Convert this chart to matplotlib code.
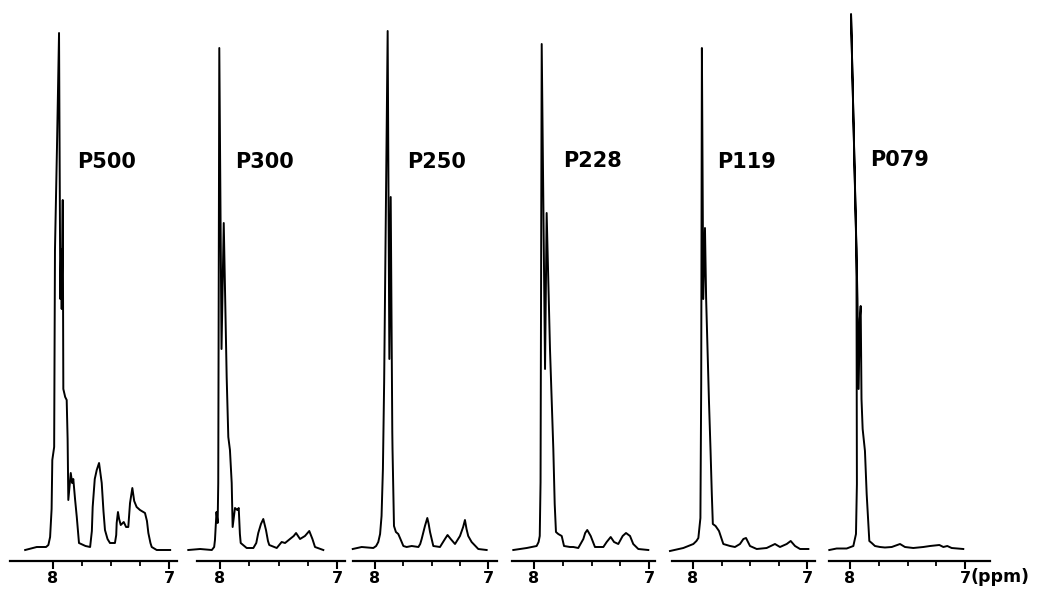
import matplotlib
matplotlib.use("Agg")
import matplotlib.pyplot as plt

# spectra: chemical shift (ppm) and intensity (above baseline)
labels = ["P500", "P300", "P250", "P228", "P119", "P079"]

p500_ppm = [8.24, 8.14, 8.06, 8.04, 8.025, 8.012, 8.006, 7.99, 7.983, 7.966,
            7.948, 7.937, 7.93, 7.925, 7.916, 7.911, 7.895, 7.882, 7.874, 7.868,
            7.847, 7.835, 7.825, 7.81, 7.795, 7.776, 7.72, 7.68, 7.665, 7.658,
            7.64, 7.623, 7.603, 7.58, 7.565, 7.552, 7.53, 7.509, 7.466, 7.455,
            7.451, 7.44, 7.43, 7.416, 7.39, 7.37, 7.351, 7.336, 7.316, 7.30,
            7.279, 7.25, 7.207, 7.19, 7.178, 7.16, 7.149, 7.106, 6.99]
p500_int = [-1, 2, 2, 4, 12, 40, 89, 102, 299, 400,
            516, 250, 300, 240, 349, 160, 152, 149, 110, 49,
            76, 66, 70, 50, 32, 6, 3, 2, 18, 42,
            70, 79, 86, 66, 38, 19, 10, 6, 6, 14,
            26, 37, 30, 24, 27, 22, 22, 46, 61, 48,
            42, 39, 36, 28, 16, 6, 2, -1, -1]

p300_ppm = [8.271, 8.17, 8.07, 8.05, 8.043, 8.03, 8.02, 8.015, 8.006, 7.987,
            7.968, 7.943, 7.929, 7.915, 7.90, 7.892, 7.872, 7.852, 7.84, 7.83,
            7.823, 7.772, 7.715, 7.69, 7.673, 7.65, 7.63, 7.607, 7.59, 7.579,
            7.515, 7.473, 7.444, 7.402, 7.37, 7.35, 7.316, 7.274, 7.237, 7.21,
            7.188, 7.117]
p300_int = [-1, 0, -1, 2, 9, 37, 26, 66, 501, 200,
            326, 172, 112, 99, 66, 22, 41, 39, 41, 15,
            6, 1, 1, 6, 16, 25, 30, 19, 8, 4,
            1, 7, 6, 10, 13, 16, 10, 13, 18, 10,
            2, -1]

p250_ppm = [8.197, 8.118, 8.015, 7.99, 7.971, 7.955, 7.942, 7.93, 7.919, 7.888,
            7.873, 7.861, 7.847, 7.845, 7.832, 7.815, 7.794, 7.775, 7.749, 7.72,
            7.675, 7.616, 7.6, 7.587, 7.558, 7.537, 7.525, 7.513, 7.484, 7.425,
            7.381, 7.358, 7.351, 7.33, 7.292, 7.248, 7.22, 7.204, 7.19, 7.175,
            7.145, 7.086, 7.012]
p250_int = [0, 2, 1, 3, 7, 15, 33, 80, 167, 518,
            190, 352, 117, 100, 23, 17, 15, 10, 3, 2,
            3, 2, 5, 10, 23, 31, 25, 17, 3, 2,
            10, 14, 13, 10, 5, 13, 22, 29, 20, 13,
            7, 0, -1]

p228_ppm = [8.18, 8.063, 7.977, 7.96, 7.95, 7.943, 7.933, 7.904, 7.89, 7.861,
            7.832, 7.82, 7.809, 7.789, 7.759, 7.739, 7.687, 7.658, 7.615, 7.571,
            7.555, 7.537, 7.507, 7.47, 7.397, 7.368, 7.333, 7.304, 7.267, 7.229,
            7.20, 7.165, 7.137, 7.093, 7.006]
p228_int = [-1, 1, 3, 7, 13, 67, 505, 180, 336, 200,
            100, 45, 17, 15, 13, 3, 2, 2, 1, 10,
            16, 19, 13, 2, 2, 7, 12, 7, 5, 13,
            16, 13, 5, 0, -1]

p119_ppm = [8.202, 8.085, 7.997, 7.97, 7.953, 7.935, 7.928, 7.922, 7.91, 7.895,
            7.885, 7.86, 7.846, 7.835, 7.826, 7.802, 7.772, 7.734, 7.675, 7.632,
            7.588, 7.558, 7.535, 7.50, 7.441, 7.354, 7.281, 7.237, 7.178, 7.143,
            7.105, 7.061, 6.988]
p119_int = [-2, 1, 5, 8, 11, 31, 165, 501, 250, 321,
            251, 148, 98, 55, 25, 23, 18, 5, 3, 2,
            5, 10, 11, 3, 0, 1, 5, 2, 5, 8,
            3, 0, 0]

p079_ppm = [8.18, 8.116, 8.029, 7.971, 7.948, 7.94, 7.944, 7.991, 7.935, 7.925,
            7.915, 7.907, 7.90, 7.89, 7.87, 7.855, 7.832, 7.811, 7.783, 7.739,
            7.696, 7.637, 7.565, 7.522, 7.45, 7.363, 7.304, 7.223, 7.188, 7.154,
            7.116, 7.015]
p079_int = [-1, 0.5, 0.5, 3, 15, 65, 300, 535, 250, 160,
            230, 243, 150, 120, 98, 55, 8, 6, 3, 2,
            1.5, 2, 5, 2, 1, 2, 3, 4, 2, 3,
            1, 0]

spectra_ppm = [p500_ppm, p300_ppm, p250_ppm, p228_ppm, p119_ppm, p079_ppm]
spectra_int = [p500_int, p300_int, p250_int, p228_int, p119_int, p079_int]

major_ticks = [8, 7]
major_labels = ["8", "7"]
minor_ticks = [7.75, 7.5, 7.25]

# layout in pixels: axes span, axis-line span, pixel of 8 ppm and of 7 ppm
W, H = 1047, 589
panels = [
    (7, 180, 10, 177, 53, 169),
    (185, 348, 197, 345, 220, 337),
    (350, 500, 353, 497, 375, 488),
    (509, 658, 512, 655, 534, 649),
    (667, 818, 672, 815, 693, 807),
    (826, 993, 829, 990, 850, 965),
]
title_px = [(77, 162), (235, 162), (407, 162), (563, 161), (717, 162), (870, 160)]

AXIS_Y = 561     # pixel row of the axis lines
BASE_Y = 549     # pixel row of the spectrum baselines

fig = plt.figure(figsize=(W / 100, H / 100), dpi=100)

for i in range(len(labels)):
    l, r, al, ar, x8, x7 = panels[i]

    def ppm(x, x8=x8, x7=x7):
        return 8 - (x - x8) / (x7 - x8)

    ax = fig.add_axes([l / W, (H - AXIS_Y) / H, (r - l) / W, AXIS_Y / H])
    ax.set_xlim(ppm(l), ppm(r))
    ax.set_ylim(BASE_Y - AXIS_Y, BASE_Y)

    ax.plot(spectra_ppm[i], spectra_int[i], color="black", lw=1.4,
            solid_joinstyle="round", clip_on=False)

    for s in ["top", "left", "right"]:
        ax.spines[s].set_visible(False)
    ax.spines["bottom"].set_bounds(ppm(ar), ppm(al))
    ax.spines["bottom"].set_linewidth(1.6)
    ax.set_yticks([])
    ax.set_xticks(major_ticks)
    ax.set_xticklabels(major_labels, fontsize=11.5, fontweight="bold")
    ax.set_xticks(minor_ticks, minor=True)
    ax.tick_params(axis="x", which="major", direction="out", length=6,
                   width=1.5, pad=1)
    ax.tick_params(axis="x", which="minor", direction="out", length=3.5,
                   width=1.3)
    ax.patch.set_visible(False)

    tx, ty = title_px[i]
    ax.text(ppm(tx), BASE_Y - ty, labels[i], fontsize=15, fontweight="bold",
            ha="left", va="center")

    if i == len(labels) - 1:
        ax.annotate("(ppm)", xy=(7, 0), xycoords=("data", "axes fraction"),
                    xytext=(4, -5.3), textcoords="offset points",
                    ha="left", va="top", fontsize=12.5, fontweight="bold")

fig.savefig("out.png", dpi=100)
